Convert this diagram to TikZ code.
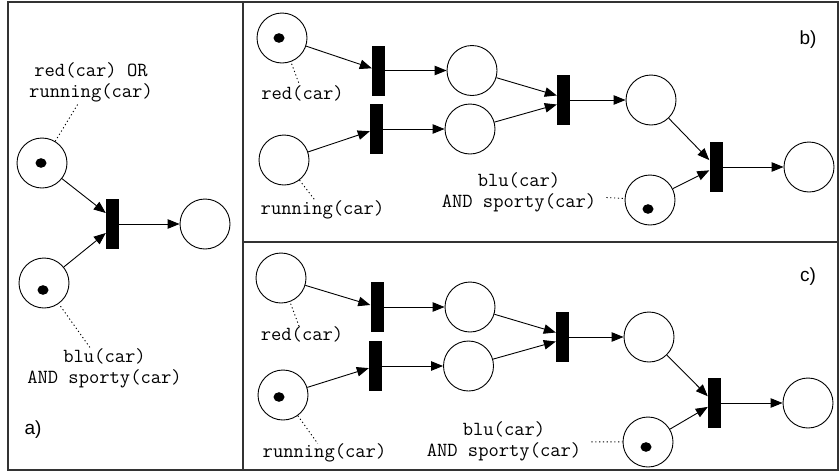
\documentclass[tikz,border=0pt]{standalone}
\usepackage{fontspec}
\newfontfamily\sansf{Liberation Sans}
\usetikzlibrary{arrows.meta,calc}

\begin{document}
\begin{tikzpicture}[x=1pt,y=-1pt,
  place/.style={draw, circle, minimum size=50pt, inner sep=0pt, line width=0.9pt},
  trans/.style={fill=black, draw=none, rectangle, minimum width=13pt, minimum height=50pt, inner sep=0pt},
  arc/.style={-{Triangle[length=12pt,width=9.5pt]}, line width=0.9pt},
  lbl/.style={font=\ttfamily\fontsize{20}{21}\selectfont, align=center, inner sep=0pt},
  tag/.style={font=\sansf\fontsize{19}{22}\selectfont, inner sep=0pt},
  link/.style={line width=0.9pt, dash pattern=on 1.2pt off 2.6pt},
  frame/.style={line width=1.3pt, draw=black!80},
]
\useasboundingbox (0,0) rectangle (840,472);

% panel frames
\draw[frame] (8,2) rectangle (838,470);
\draw[frame] (243,2) -- (243,470);
\draw[frame] (243,242) -- (838,242);

% ---------- a) ----------
\node[place] (pa1) at (42,163) {};
\node[place] (pa2) at (44,283) {};
\node[trans] (ta) at (112.5,224) {};
\node[place] (pa3) at (205,224) {};
\fill (41,163) ellipse [x radius=5.5pt, y radius=4.8pt];
\fill (43,290) ellipse [x radius=5.5pt, y radius=4.8pt];
\node[lbl] (la1) at (91,82.5) {red(car) OR\\running(car)};
\node[lbl] (la2) at (104.5,368) {blu(car)\\AND sporty(car)};
\node[tag] (tagA) at (33,430) {a)};
\draw[arc] (pa1) -- ($(ta.west)+(0,-11)$);
\draw[arc] (pa2) -- ($(ta.west)+(0,9)$);
\draw[arc] (ta) -- (pa3);
\draw[link] (pa1) -- (la1);
\draw[link, shorten <=3pt] (pa2) -- (la2);

% ---------- b) ----------
\node[place] (pb1) at (282,38) {};
\node[place] (pb2) at (284,160) {};
\node[trans] (tb1) at (378.5,70.5) {};
\node[trans] (tb2) at (376.5,129) {};
\node[place] (pb3) at (472,70.5) {};
\node[place] (pb4) at (470,129) {};
\node[trans] (tb3) at (563.5,100) {};
\node[place] (pb5) at (651,100) {};
\node[trans] (tb4) at (716,167) {};
\node[place] (pb6) at (809,167) {};
\node[place] (pb7) at (650,200) {};
\fill (279,38) ellipse [x radius=5.5pt, y radius=4.8pt];
\fill (648,209) ellipse [x radius=5.5pt, y radius=4.8pt];
\node[lbl] (lb1) at (302.5,93) {red(car)};
\node[lbl] (lb2) at (322.5,210) {running(car)};
\node[lbl] (lb3) at (519,192.5) {blu(car)\\AND sporty(car)};
\node[tag] (tagB) at (808,40) {b)};
\draw[arc] (pb1) -- (tb1);
\draw[arc] (pb2) -- (tb2);
\draw[arc] (tb1) -- (pb3);
\draw[arc] (tb2) -- (pb4);
\draw[arc] (pb3) -- ($(tb3.west)+(0,-4.5)$);
\draw[arc] (pb4) -- ($(tb3.west)+(0,4.5)$);
\draw[arc] (tb3) -- (pb5);
\draw[arc] (pb5) -- (tb4);
\draw[arc] (pb7) -- (tb4);
\draw[arc] (tb4) -- (pb6);
\draw[link, shorten <=2pt] (pb1) -- (lb1);
\draw[link] (pb2) -- (lb2);
\draw[link, shorten <=10pt] (lb3) -- (pb7);

% ---------- c) ----------
\node[place] (pc1) at (281,278) {};
\node[place] (pc2) at (283,395) {};
\node[trans] (tc1) at (377,307) {};
\node[trans] (tc2) at (375.5,366) {};
\node[place] (pc3) at (470,307) {};
\node[place] (pc4) at (468.5,366) {};
\node[trans] (tc3) at (562.5,337) {};
\node[place] (pc5) at (649,337) {};
\node[trans] (tc4) at (714.5,403) {};
\node[place] (pc6) at (808,403) {};
\node[place] (pc7) at (648,442) {};
\fill (279,397) ellipse [x radius=5.5pt, y radius=4.8pt];
\fill (646,447) ellipse [x radius=5.5pt, y radius=4.8pt];
\node[lbl] (lc1) at (302,334) {red(car)};
\node[lbl] (lc2) at (324.5,453) {running(car)};
\node[lbl] (lc3) at (504,441.5) {blu(car)\\AND sporty(car)};
\node[tag] (tagC) at (808,277) {c)};
\draw[arc] (pc1) -- (tc1);
\draw[arc] (pc2) -- (tc2);
\draw[arc] (tc1) -- (pc3);
\draw[arc] (tc2) -- (pc4);
\draw[arc] (pc3) -- ($(tc3.west)+(0,-4.5)$);
\draw[arc] (pc4) -- ($(tc3.west)+(0,4.5)$);
\draw[arc] (tc3) -- (pc5);
\draw[arc] (pc5) -- (tc4);
\draw[arc] (pc7) -- (tc4);
\draw[arc] (tc4) -- (pc6);
\draw[link, shorten <=2pt] (pc1) -- (lc1);
\draw[link] (pc2) -- (lc2);
\draw[link, shorten <=10pt] (lc3) -- (pc7);
\end{tikzpicture}
\end{document}
